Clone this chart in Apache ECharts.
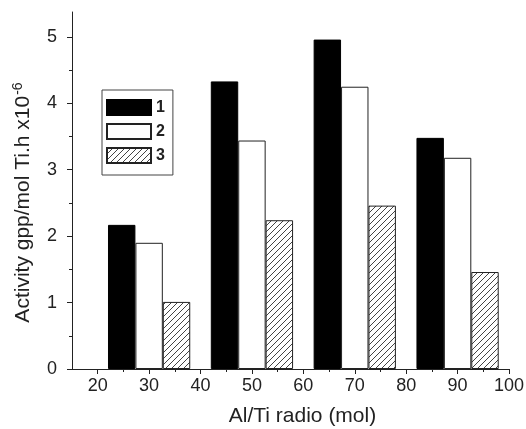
<!DOCTYPE html>
<html>
<head>
<meta charset="utf-8">
<script src="https://cdn.jsdelivr.net/npm/echarts@6/dist/echarts.min.js"></script>
<style>
  html, body { margin: 0; padding: 0; background: #fff; }
  #chart { width: 526px; height: 429px; }
</style>
</head>
<body>
<div id="chart"></div>
<script>
// Al/Ti ratio vs activity, three catalysts
const ratios = [30, 50, 70, 90];
const series1 = [2.17, 4.33, 4.96, 3.48];
const series2 = [1.90, 3.44, 4.25, 3.18];
const series3 = [1.01, 2.24, 2.46, 1.46];
const seriesNames = ['1', '2', '3'];
const xMajorTicks = [20, 30, 40, 50, 60, 70, 80, 90, 100];
const xMinorTicks = [25, 35, 45, 55, 65, 75, 85, 95];
const yMajorTicks = [0, 1, 2, 3, 4, 5];
const yMinorTicks = [0.5, 1.5, 2.5, 3.5, 4.5];

const FONT = "'Liberation Sans', Arial, sans-serif";
const INK = '#222';

// hatch pattern "/" for series 3
function makeHatch() {
  const c = document.createElement('canvas');
  c.width = 6;
  c.height = 6;
  const ctx = c.getContext('2d');
  ctx.fillStyle = '#fff';
  ctx.fillRect(0, 0, 6, 6);
  ctx.strokeStyle = '#444';
  ctx.lineWidth = 1;
  ctx.beginPath();
  ctx.moveTo(-1, 7); ctx.lineTo(7, -1);
  ctx.moveTo(-1, 1); ctx.lineTo(1, -1);
  ctx.moveTo(5, 7); ctx.lineTo(7, 5);
  ctx.stroke();
  return c;
}

const pairs = (vals) => ratios.map((r, i) => [r, vals[i]]);

const chart = echarts.init(document.getElementById('chart'), null, { renderer: 'canvas' });

const option = {
  animation: false,
  backgroundColor: '#fff',
  textStyle: { fontFamily: FONT },
  grid: { left: 72, right: 17, top: 12, bottom: 60, outerBoundsMode: 'none' },
  legend: {
    orient: 'vertical',
    left: 102,
    top: 90,
    padding: [9, 8, 11, 4],
    itemWidth: 44,
    itemHeight: 15,
    itemGap: 7,
    icon: 'rect',
    borderColor: '#444',
    borderWidth: 1,
    data: seriesNames,
    textStyle: { fontFamily: FONT, fontSize: 16, fontWeight: 'bold', color: INK }
  },
  xAxis: [
    {
      type: 'value',
      min: 15,
      max: 100,
      position: 'bottom',
      name: 'Al/Ti radio (mol)',
      nameLocation: 'middle',
      nameGap: 37,
      nameTextStyle: { fontFamily: FONT, fontSize: 21, color: INK, padding: [0, 0, 0, 24] },
      axisLine: { lineStyle: { color: INK, width: 1 } },
      axisTick: { customValues: xMajorTicks, length: 5, lineStyle: { color: INK } },
      axisLabel: { customValues: xMajorTicks, fontSize: 18, color: INK, margin: 8, fontFamily: FONT },
      splitLine: { show: false }
    },
    {
      type: 'value',
      min: 15,
      max: 100,
      position: 'bottom',
      axisLine: { show: false },
      axisTick: { customValues: xMinorTicks, length: 3, lineStyle: { color: INK } },
      axisLabel: { show: false },
      splitLine: { show: false }
    }
  ],
  yAxis: [
    {
      type: 'value',
      min: 0,
      max: 5.375,
      position: 'left',
      name: 'Activity gpp/mol Ti.h x10{sup|-6}',
      nameLocation: 'middle',
      nameRotate: 90,
      nameGap: 36,
      nameTextStyle: {
        fontFamily: FONT,
        fontSize: 21,
        color: INK,
        padding: [0, 24, 0, 0],
        rich: { sup: { fontFamily: FONT, fontSize: 14, color: INK, padding: [0, 0, 11, 1] } }
      },
      axisLine: { show: true, lineStyle: { color: INK, width: 1 } },
      axisTick: { show: true, customValues: yMajorTicks, length: 5, lineStyle: { color: INK } },
      axisLabel: { customValues: yMajorTicks, fontSize: 18, color: INK, margin: 15, fontFamily: FONT },
      splitLine: { show: false }
    },
    {
      type: 'value',
      min: 0,
      max: 5.375,
      position: 'left',
      axisLine: { show: false },
      axisTick: { show: true, customValues: yMinorTicks, length: 3, lineStyle: { color: INK } },
      axisLabel: { show: false },
      splitLine: { show: false }
    }
  ],
  series: [
    {
      name: seriesNames[0],
      type: 'bar',
      barGap: '0%',
      barCategoryGap: '20%',
      data: pairs(series1),
      itemStyle: { color: '#000', borderColor: '#000', borderWidth: 1 }
    },
    {
      name: seriesNames[1],
      type: 'bar',
      barGap: '0%',
      barCategoryGap: '20%',
      data: pairs(series2),
      itemStyle: { color: '#fff', borderColor: INK, borderWidth: 1 }
    },
    {
      name: seriesNames[2],
      type: 'bar',
      barGap: '0%',
      barCategoryGap: '20%',
      data: pairs(series3),
      itemStyle: { color: { image: makeHatch(), repeat: 'repeat' }, borderColor: INK, borderWidth: 1 }
    }
  ]
};

chart.setOption(option);
</script>
</body>
</html>
